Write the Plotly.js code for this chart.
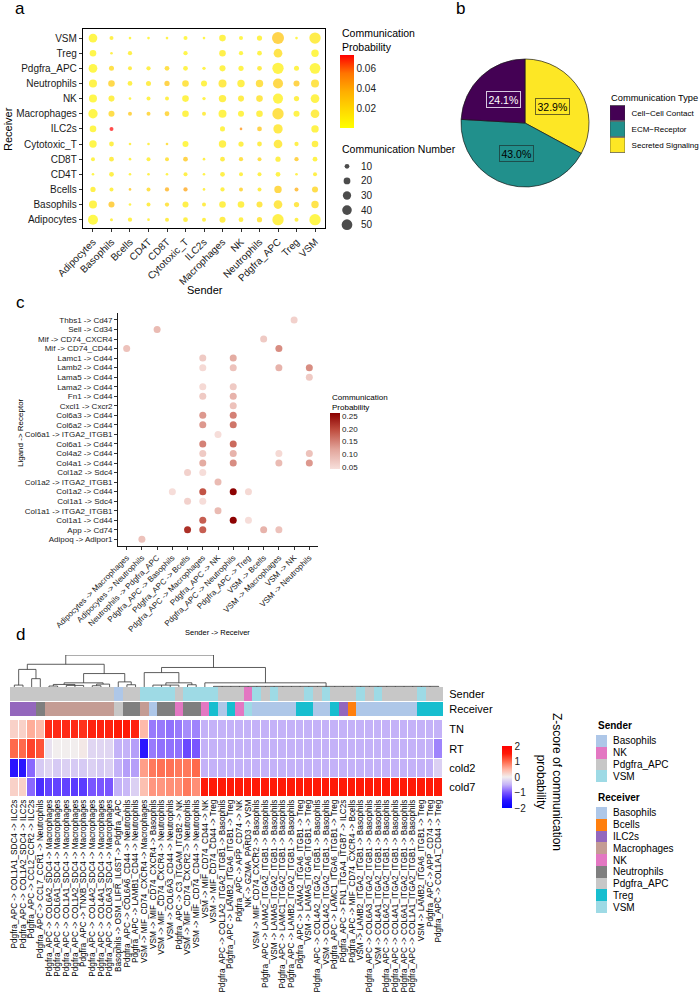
<!DOCTYPE html>
<html><head><meta charset="utf-8">
<script src="https://cdn.plot.ly/plotly-3.0.1.min.js"></script>
<style>html,body{margin:0;padding:0;background:#fff}#chart{width:700px;height:1000px}</style>
</head><body><div id="chart"></div>
<script>
// ================= DATA =================
// ---- Panel a ----
const aSenders = ['Adipocytes','Basophils','Bcells','CD4T','CD8T','Cytotoxic_T','ILC2s','Macrophages','NK','Neutrophils','Pdgfra_APC','Treg','VSM'];
const aReceivers = ['VSM','Treg','Pdgfra_APC','Neutrophils','NK','Macrophages','ILC2s','Cytotoxic_T','CD8T','CD4T','Bcells','Basophils','Adipocytes']; // top to bottom
const aCount = [
  [33, 7, 3, 3, 3, 7, 3, 19, 7, 12, 63, 3, 56],
  [19, 3, 8, 0, 0, 8, 0, 19, 8, 10, 33, 0, 24],
  [33, 11, 7, 8, 10, 10, 5, 16, 12, 10, 56, 11, 50],
  [28, 19, 10, 11, 12, 19, 16, 28, 24, 24, 44, 16, 28],
  [28, 16, 3, 7, 7, 19, 5, 24, 16, 19, 44, 12, 33],
  [38, 16, 7, 7, 10, 19, 7, 28, 16, 19, 56, 16, 33],
  [19, 7, 0, 0, 0, 0, 0, 11, 3, 10, 38, 0, 24],
  [24, 10, 3, 3, 3, 16, 0, 24, 12, 10, 33, 8, 19],
  [7, 10, 3, 7, 7, 10, 3, 10, 8, 7, 12, 8, 10],
  [3, 10, 3, 3, 3, 7, 3, 10, 7, 7, 10, 3, 7],
  [12, 7, 3, 7, 8, 8, 3, 8, 7, 7, 24, 7, 16],
  [28, 16, 3, 7, 8, 16, 7, 19, 19, 16, 33, 12, 24],
  [44, 4, 8, 3, 7, 10, 7, 16, 10, 12, 56, 7, 56]
];
const aProb = [
  [0.006, 0.010, 0.006, 0.006, 0.008, 0.006, 0.006, 0.008, 0.006, 0.008, 0.028, 0.006, 0.012],
  [0.006, 0.010, 0.010, 0, 0, 0.006, 0, 0.010, 0.006, 0.008, 0.018, 0, 0.006],
  [0.005, 0.020, 0.012, 0.010, 0.020, 0.008, 0.008, 0.008, 0.008, 0.012, 0.008, 0.008, 0.006],
  [0.008, 0.025, 0.010, 0.012, 0.028, 0.018, 0.008, 0.014, 0.010, 0.020, 0.025, 0.028, 0.018],
  [0.005, 0.010, 0.006, 0.008, 0.010, 0.008, 0.008, 0.010, 0.012, 0.016, 0.008, 0.010, 0.008],
  [0.006, 0.022, 0.028, 0.025, 0.025, 0.008, 0.012, 0.008, 0.008, 0.010, 0.020, 0.008, 0.012],
  [0.006, 0.073, 0, 0, 0, 0, 0, 0.008, 0.048, 0.028, 0.014, 0, 0.008],
  [0.006, 0.010, 0.010, 0.010, 0.020, 0.006, 0, 0.010, 0.010, 0.012, 0.014, 0.010, 0.010],
  [0.008, 0.012, 0.008, 0.010, 0.018, 0.028, 0.010, 0.012, 0.020, 0.020, 0.010, 0.028, 0.008],
  [0.006, 0.010, 0.008, 0.010, 0.008, 0.010, 0.008, 0.010, 0.010, 0.010, 0.008, 0.010, 0.010],
  [0.010, 0.010, 0.028, 0.020, 0.038, 0.042, 0.010, 0.010, 0.025, 0.012, 0.025, 0.038, 0.022],
  [0.008, 0.030, 0.008, 0.012, 0.018, 0.010, 0.012, 0.010, 0.010, 0.016, 0.016, 0.016, 0.018],
  [0.004, 0.010, 0.010, 0.010, 0.012, 0.010, 0.010, 0.012, 0.010, 0.016, 0.010, 0.010, 0.006]
];
const sizeLegendValues = [10, 20, 30, 40, 50];
const aProbTicks = [0.02, 0.04, 0.06];

// ---- Panel b ----
const commTypes = ['Cell\u2212Cell Contact', 'ECM\u2212Receptor', 'Secreted Signaling'];
const commShare = [24.1, 43.0, 32.9];
const commColors = ['#440154', '#21908C', '#FDE725'];

// ---- Panel c ----
const cLigRec = ['Adipoq -> Adipor1','App -> Cd74','Col1a1 -> Cd44','Col1a1 -> ITGA2_ITGB1','Col1a1 -> Sdc4',
  'Col1a2 -> Cd44','Col1a2 -> ITGA2_ITGB1','Col1a2 -> Sdc4','Col4a1 -> Cd44','Col4a2 -> Cd44','Col6a1 -> Cd44',
  'Col6a1 -> ITGA2_ITGB1','Col6a2 -> Cd44','Col6a3 -> Cd44','Cxcl1 -> Cxcr2','Fn1 -> Cd44','Lama2 -> Cd44',
  'Lama5 -> Cd44','Lamb2 -> Cd44','Lamc1 -> Cd44','Mif -> CD74_CD44','Mif -> CD74_CXCR4','Sell -> Cd34','Thbs1 -> Cd47'];
const cSendRec = ['Adipocytes -> Macrophages','Adipocytes -> Neutrophils','Neutrophils -> Pdgfra_APC',
  'Pdgfra_APC -> Basophils','Pdgfra_APC -> Bcells','Pdgfra_APC -> Macrophages','Pdgfra_APC -> NK',
  'Pdgfra_APC -> Neutrophils','Pdgfra_APC -> Treg','VSM -> Bcells','VSM -> Macrophages','VSM -> NK','VSM -> Neutrophils'];
const cPointPair = [
  'Thbs1 -> Cd47','Sell -> Cd34','Mif -> CD74_CXCR4','Mif -> CD74_CD44','Mif -> CD74_CD44',
  'Lamc1 -> Cd44','Lamc1 -> Cd44','Lamb2 -> Cd44','Lamb2 -> Cd44','Lamb2 -> Cd44','Lamb2 -> Cd44',
  'Lama5 -> Cd44','Lama2 -> Cd44','Lama2 -> Cd44','Fn1 -> Cd44','Fn1 -> Cd44','Cxcl1 -> Cxcr2',
  'Col6a3 -> Cd44','Col6a3 -> Cd44','Col6a2 -> Cd44','Col6a2 -> Cd44','Col6a1 -> ITGA2_ITGB1',
  'Col6a1 -> Cd44','Col6a1 -> Cd44','Col4a2 -> Cd44','Col4a2 -> Cd44','Col4a2 -> Cd44','Col4a2 -> Cd44',
  'Col4a1 -> Cd44','Col4a1 -> Cd44','Col4a1 -> Cd44','Col4a1 -> Cd44','Col1a2 -> Sdc4','Col1a2 -> Sdc4',
  'Col1a2 -> ITGA2_ITGB1','Col1a2 -> Cd44','Col1a2 -> Cd44','Col1a2 -> Cd44','Col1a2 -> Cd44',
  'Col1a1 -> Sdc4','Col1a1 -> Sdc4','Col1a1 -> ITGA2_ITGB1','Col1a1 -> Cd44','Col1a1 -> Cd44','Col1a1 -> Cd44',
  'App -> Cd74','App -> Cd74','App -> Cd74','App -> Cd74','Adipoq -> Adipor1'];
const cPointSR = [
  'VSM -> NK','Neutrophils -> Pdgfra_APC','VSM -> Bcells','Adipocytes -> Macrophages','VSM -> Macrophages',
  'Pdgfra_APC -> Macrophages','Pdgfra_APC -> Neutrophils','Pdgfra_APC -> Macrophages','Pdgfra_APC -> Neutrophils','VSM -> Macrophages','VSM -> Neutrophils',
  'VSM -> Neutrophils','Pdgfra_APC -> Macrophages','Pdgfra_APC -> Neutrophils','Pdgfra_APC -> Macrophages','Pdgfra_APC -> Neutrophils','Pdgfra_APC -> Neutrophils',
  'Pdgfra_APC -> Macrophages','Pdgfra_APC -> Neutrophils','Pdgfra_APC -> Macrophages','Pdgfra_APC -> Neutrophils','Pdgfra_APC -> NK',
  'Pdgfra_APC -> Macrophages','Pdgfra_APC -> Neutrophils','Pdgfra_APC -> Macrophages','Pdgfra_APC -> Neutrophils','VSM -> Macrophages','VSM -> Neutrophils',
  'Pdgfra_APC -> Macrophages','Pdgfra_APC -> Neutrophils','VSM -> Macrophages','VSM -> Neutrophils','Pdgfra_APC -> Bcells','Pdgfra_APC -> Macrophages',
  'Pdgfra_APC -> NK','Pdgfra_APC -> Basophils','Pdgfra_APC -> Macrophages','Pdgfra_APC -> Neutrophils','Pdgfra_APC -> Treg',
  'Pdgfra_APC -> Bcells','Pdgfra_APC -> Macrophages','Pdgfra_APC -> NK','Pdgfra_APC -> Macrophages','Pdgfra_APC -> Neutrophils','Pdgfra_APC -> Treg',
  'Pdgfra_APC -> Bcells','Pdgfra_APC -> Macrophages','VSM -> Bcells','VSM -> Macrophages','Adipocytes -> Neutrophils'];
const cPointProb = [
  0.06, 0.09, 0.07, 0.08, 0.14,
  0.07, 0.11, 0.05, 0.08, 0.10, 0.14,
  0.07, 0.05, 0.07, 0.07, 0.10, 0.08,
  0.13, 0.15, 0.13, 0.16, 0.045,
  0.15, 0.17, 0.07, 0.10, 0.05, 0.08,
  0.11, 0.14, 0.09, 0.13, 0.06, 0.045,
  0.09, 0.045, 0.19, 0.26, 0.05,
  0.06, 0.045, 0.09, 0.18, 0.26, 0.045,
  0.22, 0.18, 0.10, 0.08, 0.08];
const cProbTicks = [0.05, 0.10, 0.15, 0.20, 0.25];

// ---- Panel d ----
const hmColumns = [
  'Pdgfra_APC -> COL1A1_SDC4 -> ILC2s','Pdgfra_APC -> COL1A2_SDC4 -> ILC2s','Pdgfra_APC -> CCL2_CCR2 -> ILC2s',
  'Pdgfra_APC -> CCL7_CCR1 -> Neutrophils','Pdgfra_APC -> COL6A2_SDC4 -> Macrophages','Pdgfra_APC -> COL6A1_SDC4 -> Macrophages',
  'Pdgfra_APC -> COL1A1_SDC4 -> Macrophages','Pdgfra_APC -> COL1A2_SDC4 -> Macrophages','Pdgfra_APC -> TNXB_SDC4 -> Macrophages',
  'Pdgfra_APC -> COL4A2_SDC4 -> Macrophages','Pdgfra_APC -> COL4A1_SDC4 -> Macrophages','Pdgfra_APC -> COL6A3_SDC4 -> Macrophages',
  'Basophils -> OSM_LIFR_IL6ST -> Pdgfra_APC','Pdgfra_APC -> COL6A6_CD44 -> Neutrophils','Pdgfra_APC -> LAMB1_CD44 -> Neutrophils',
  'VSM -> MIF_CD74_CXCR4 -> Macrophages','VSM -> MIF_CD74_CXCR4 -> Basophils','VSM -> MIF_CD74_CXCR4 -> Neutrophils',
  'VSM -> COL6A3_CD44 -> Neutrophils','Pdgfra_APC -> C3_ITGAM_ITGB2 -> NK','VSM -> MIF_CD74_CXCR2 -> Neutrophils',
  'VSM -> MIF_CD74_CD44 -> Neutrophils','VSM -> MIF_CD74_CD44 -> NK','VSM -> MIF_CD74_CD44 -> Treg',
  'Pdgfra_APC -> COL1A2_ITGA2_ITGB1 -> Basophils','Pdgfra_APC -> LAMB2_ITGA6_ITGB1 -> Treg','Pdgfra_APC -> APP_CD74 -> NK',
  'NK -> GZMA_PARD3 -> VSM','VSM -> MIF_CD74_CXCR2 -> Basophils','Pdgfra_APC -> LAMA2_ITGA2_ITGB1 -> Basophils',
  'VSM -> LAMA5_ITGA2_ITGB1 -> Basophils','Pdgfra_APC -> LAMC1_ITGA2_ITGB1 -> Basophils','Pdgfra_APC -> LAMB2_ITGA2_ITGB1 -> Basophils',
  'Pdgfra_APC -> LAMA2_ITGA6_ITGB1 -> Treg','VSM -> LAMA5_ITGA6_ITGB1 -> Treg','Pdgfra_APC -> COL4A2_ITGA2_ITGB1 -> Basophils',
  'VSM -> COL4A2_ITGA2_ITGB1 -> Basophils','Pdgfra_APC -> LAMC1_ITGA6_ITGB1 -> Treg','Pdgfra_APC -> FN1_ITGA4_ITGB7 -> ILC2s',
  'Pdgfra_APC -> MIF_CD74_CXCR4 -> Bcells','VSM -> LAMB2_ITGA2_ITGB1 -> Basophils','Pdgfra_APC -> COL6A3_ITGA2_ITGB1 -> Basophils',
  'VSM -> COL4A1_ITGA2_ITGB1 -> Basophils','Pdgfra_APC -> COL6A2_ITGA2_ITGB1 -> Basophils','Pdgfra_APC -> COL4A1_ITGA2_ITGB1 -> Basophils',
  'Pdgfra_APC -> COL6A1_ITGA2_ITGB1 -> Basophils','Pdgfra_APC -> COL1A1_ITGA2_ITGB1 -> Basophils','VSM -> LAMB2_ITGA6_ITGB1 -> Treg',
  'Pdgfra_APC -> APP_CD74 -> Treg','Pdgfra_APC -> COL1A1_CD44 -> Treg'];
const hmRows = ['TN', 'RT', 'cold2', 'cold7'];
const zTN    = [0.25,0.25,0.55,0.45,1.4,1.4,1.4,1.4,1.35,1.45,1.45,1.45,1.5,1.5,1.45,0.45,-0.8,-0.8,-0.85,-0.8,-0.7,-0.75,
  -0.5,-0.5,-0.5,-0.5,-0.5,-0.5,-0.5,-0.5,-0.5,-0.5,-0.5,-0.5,-0.5,-0.5,-0.5,-0.5,-0.5,-0.5,-0.5,-0.5,-0.5,-0.5,-0.5,-0.5,-0.5,-0.5,-0.5,-0.5];
const zRT    = [1.0,1.0,1.25,1.15,-0.1,0.0,0.0,0.0,0.05,-0.2,-0.2,-0.2,-0.5,-0.5,-0.6,-1.5,-0.8,-0.85,-0.85,-0.85,-1.1,-1.0,
  -0.5,-0.5,-0.5,-0.5,-0.5,-0.5,-0.5,-0.5,-0.5,-0.5,-0.5,-0.5,-0.5,-0.5,-0.5,-0.5,-0.5,-0.5,-0.5,-0.5,-0.5,-0.5,-0.5,-0.5,-0.5,-0.5,-0.5,-0.75];
const zCold2 = [-1.5,-1.5,-0.9,-0.3,-0.2,-0.3,-0.25,-0.3,-0.3,-0.25,-0.3,-0.25,-0.5,-0.6,-0.6,0.65,0.9,0.95,0.95,0.9,0.9,1.0,
  -0.5,-0.5,-0.5,-0.5,-0.5,-0.5,-0.5,-0.5,-0.5,-0.5,-0.5,-0.5,-0.5,-0.5,-0.5,-0.5,-0.5,-0.5,-0.5,-0.5,-0.5,-0.5,-0.5,-0.5,-0.5,-0.5,-0.5,-0.25];
const zCold7 = [0.25,0.25,-0.9,-1.3,-1.15,-1.15,-1.15,-1.2,-1.2,-1.0,-1.0,-1.0,-0.5,-0.45,-0.25,0.4,0.7,0.7,0.75,0.75,0.9,0.75,
  1.5,1.5,1.5,1.5,1.5,1.5,1.5,1.5,1.5,1.5,1.5,1.5,1.5,1.5,1.5,1.5,1.5,1.5,1.5,1.5,1.5,1.5,1.5,1.5,1.5,1.5,1.5,1.5];
const zTicks = [-2, -1, 0, 1, 2];
const senderCats = ['Basophils', 'NK', 'Pdgfra_APC', 'VSM'];
const senderColors = ['#AEC7E8', '#E377C2', '#C7C7C7', '#9EDAE5'];
const receiverCats = ['Basophils', 'Bcells', 'ILC2s', 'Macrophages', 'NK', 'Neutrophils', 'Pdgfra_APC', 'Treg', 'VSM'];
const receiverColors = ['#AEC7E8', '#FF7F0E', '#9467BD', '#C49C94', '#E377C2', '#7F7F7F', '#C7C7C7', '#17BECF', '#9EDAE5'];
// column clustering: internal nodes {h: merge height (relative), c: children}, leaves = column numbers
const dendroTree = {h: 1.0, c: [
  {h: 0.71, c: [
    {h: 0.55, c: [ {h: 0.06, c: [1, 2]}, {h: 0.26, c: [3, 4]} ]},
    {h: 0.42, c: [
      {h: 0.13, c: [
        {h: 0.08, c: [ {h: 0.03, c: [5, 6]}, {h: 0.05, c: [7, 8, 9]} ]},
        {h: 0.09, c: [ {h: 0.04, c: [10, 11]}, 12 ]}
      ]},
      {h: 0.16, c: [13, {h: 0.07, c: [14, 15]}]}
    ]}
  ]},
  {h: 0.61, c: [
    {h: 0.45, c: [16, {h: 0.13, c: [ {h: 0.06, c: [17, 18, 19, 20]}, {h: 0.07, c: [21, 22]} ]}]},
    {h: 0.13, c: [23, {h: 0.02, c: [24,25,26,27,28,29,30,31,32,33,34,35,36,37,38,39,40,41,42,43,44,45,46,47,48,49,50]}]}
  ]}
]};

// ================= HELPERS =================
const W = 700, H = 1000;
const px = v => v / W;
const py = v => 1 - v / H;
const FONT = 'Liberation Sans, Arial, Helvetica, sans-serif';
function discreteScale(colors) {
  const n = colors.length, s = [];
  colors.forEach((c, i) => { s.push([i / n, c]); s.push([(i + 1) / n, c]); });
  return s;
}
const hidden = {visible: false, showgrid: false, zeroline: false, fixedrange: true};
const clearTicks = {ticks: 'outside', tickcolor: 'rgba(0,0,0,0)', showline: false, showgrid: false, zeroline: false, dtick: 1};

const traces = [];
const annotations = [];
function label(text, x, y, opts) {
  annotations.push(Object.assign({text: text, x: px(x), y: py(y), xref: 'paper', yref: 'paper',
    showarrow: false, xanchor: 'center', yanchor: 'middle', font: {size: 10, color: '#000', family: FONT}}, opts || {}));
}

// ================= PANEL A =================
const aSizeRef = 2 * 50 / (10.7 * 10.7);
const ax = [], ay = [], asz = [], acol = [];
aReceivers.forEach((r, i) => aSenders.forEach((s, j) => {
  if (aCount[i][j] > 0) { ax.push(s); ay.push(r); asz.push(aCount[i][j]); acol.push(aProb[i][j]); }
}));
traces.push({
  type: 'scatter', mode: 'markers', x: ax, y: ay, xaxis: 'x', yaxis: 'y', hoverinfo: 'skip', showlegend: false,
  marker: {size: asz, sizemode: 'area', sizeref: aSizeRef, color: acol, cmin: 0, cmax: 0.0733,
    colorscale: [[0, '#FFFF00'], [0.25, '#FFD800'], [0.5, '#FFAE00'], [0.75, '#FF7400'], [1, '#FF0000']],
    line: {width: 0},
    colorbar: {x: px(340), xanchor: 'left', y: py(55), yanchor: 'top', len: 73, lenmode: 'pixels',
      thickness: 14, xpad: 0, ypad: 0, outlinewidth: 0, tickvals: aProbTicks, ticks: '',
      tickfont: {size: 10, color: '#222'}, title: {text: ''}}}
});
// size legend
traces.push({
  type: 'scatter', mode: 'markers', x: sizeLegendValues.map(() => 0), y: sizeLegendValues.map(String),
  xaxis: 'x2', yaxis: 'y2', hoverinfo: 'skip', showlegend: false,
  marker: {size: sizeLegendValues, sizemode: 'area', sizeref: aSizeRef, color: '#000', line: {width: 0}}
});

// ================= PANEL B =================
// drawn clockwise from 12 o'clock in reverse order = counter-clockwise in the listed order
traces.push({
  type: 'pie', values: commShare.slice().reverse(), labels: commTypes.slice().reverse(), sort: false,
  direction: 'clockwise', rotation: 0,
  textinfo: 'none', hoverinfo: 'skip', showlegend: false,
  marker: {colors: commColors.slice().reverse(), line: {color: '#1a1a1a', width: 0.7}},
  domain: {x: [px(461), px(589)], y: [py(187), py(59)]}
});
// slice labels placed at half radius from the slice mid angles (counter-clockwise from 12 o'clock)
(function () {
  const cx = 525, cy = 123, r = 64;
  const total = commShare.reduce((a, b) => a + b, 0);
  let cum = 0;
  const txtCol = ['#ffffff', '#000000', '#000000'];
  const brd = ['#d8c8e0', '#1d4e4c', '#6b6420'];
  commShare.forEach((v, i) => {
    const f = (cum + v / 2) / total; cum += v;
    const th = 2 * Math.PI * f;
    const lx = cx - 0.5 * r * Math.sin(th), ly = cy - 0.5 * r * Math.cos(th);
    label(v.toFixed(1) + '%', lx, ly, {font: {size: 10.5, color: txtCol[i], family: FONT},
      bgcolor: commColors[i], bordercolor: brd[i], borderwidth: 1, borderpad: 1.5});
  });
})();
// pie legend keys
traces.push({
  type: 'scatter', mode: 'markers', x: commTypes.map(() => 0), y: commTypes, xaxis: 'x10', yaxis: 'y10',
  hoverinfo: 'skip', showlegend: false,
  marker: {symbol: 'square', size: 15, color: commColors, line: {color: '#333', width: 0.6}}
});

// ================= PANEL C =================
traces.push({
  type: 'scatter', mode: 'markers', x: cPointSR, y: cPointPair, xaxis: 'x3', yaxis: 'y3',
  hoverinfo: 'skip', showlegend: false,
  marker: {size: 7, color: cPointProb, cmin: 0.042, cmax: 0.262, line: {width: 0},
    colorscale: [[0, '#F7DFDB'], [0.35, '#E2A59B'], [0.7, '#BF4C3E'], [1, '#8B0000']],
    colorbar: {x: px(330), xanchor: 'left', y: py(413), yanchor: 'top', len: 56, lenmode: 'pixels',
      thickness: 10, xpad: 0, ypad: 0, outlinewidth: 0, tickvals: cProbTicks, ticks: '',
      tickformat: '.2f', tickfont: {size: 8, color: '#222'}, title: {text: ''}}}
});

// ================= PANEL D =================
const colIdx = hmColumns.map((_, i) => i + 1);
// dendrogram segments from the tree
const dx = [], dy = [];
function walk(node) {
  if (typeof node === 'number') return {x: node, h: 0};
  const kids = node.c.map(walk);
  const x0 = kids[0].x, x1 = kids[kids.length - 1].x;
  dx.push(x0, x1, null); dy.push(node.h, node.h, null);
  kids.forEach(k => { dx.push(k.x, k.x, null); dy.push(k.h, node.h, null); });
  return {x: (x0 + x1) / 2, h: node.h};
}
walk(dendroTree);
traces.push({type: 'scatter', mode: 'lines', x: dx, y: dy, xaxis: 'x4', yaxis: 'y4', hoverinfo: 'skip',
  showlegend: false, line: {color: '#333', width: 0.8}, connectgaps: false});

// annotation bars
const colSender = hmColumns.map(s => s.split(' -> ')[0]);
const colReceiver = hmColumns.map(s => { const p = s.split(' -> '); return p[p.length - 1]; });
traces.push({type: 'heatmap', x: colIdx, y: [0], z: [colSender.map(s => senderCats.indexOf(s))],
  xaxis: 'x5', yaxis: 'y5', zmin: -0.5, zmax: senderCats.length - 0.5, colorscale: discreteScale(senderColors),
  showscale: false, hoverinfo: 'skip'});
traces.push({type: 'heatmap', x: colIdx, y: [0], z: [colReceiver.map(s => receiverCats.indexOf(s))],
  xaxis: 'x6', yaxis: 'y6', zmin: -0.5, zmax: receiverCats.length - 0.5, colorscale: discreteScale(receiverColors),
  showscale: false, hoverinfo: 'skip'});
// main heatmap
traces.push({type: 'heatmap', x: colIdx, y: hmRows, z: [zTN, zRT, zCold2, zCold7], xaxis: 'x7', yaxis: 'y7',
  zmin: -2, zmax: 2, xgap: 1, ygap: 1, hoverinfo: 'skip',
  colorscale: [[0, '#0000FF'], [0.125, '#2A14FF'], [0.25, '#7A55FF'], [0.375, '#C4B2F8'], [0.5, '#F2EEEE'],
    [0.625, '#FFB4A2'], [0.75, '#FF6A4C'], [0.875, '#FF1A08'], [1, '#FF0000']],
  colorbar: {x: px(502), xanchor: 'left', y: py(746), yanchor: 'top', len: 62, lenmode: 'pixels',
    thickness: 10, xpad: 0, ypad: 0, outlinewidth: 0, tickvals: zTicks, ticks: '',
    tickfont: {size: 10, color: '#222'}, title: {text: ''}}});
// legend keys
traces.push({type: 'heatmap', x: [0], y: senderCats, z: senderCats.map((_, i) => [i]), xaxis: 'x8', yaxis: 'y8',
  zmin: -0.5, zmax: senderCats.length - 0.5, colorscale: discreteScale(senderColors), showscale: false, hoverinfo: 'skip'});
traces.push({type: 'heatmap', x: [0], y: receiverCats, z: receiverCats.map((_, i) => [i]), xaxis: 'x9', yaxis: 'y9',
  zmin: -0.5, zmax: receiverCats.length - 0.5, colorscale: discreteScale(receiverColors), showscale: false, hoverinfo: 'skip'});

// ================= TEXT =================
label('a', 20, 8, {font: {size: 17, color: '#000', family: FONT}});
label('b', 460, 8, {font: {size: 17, color: '#000', family: FONT}});
label('c', 20, 302, {font: {size: 17, color: '#000', family: FONT}});
label('d', 20, 634, {font: {size: 17, color: '#000', family: FONT}});
label('Receiver', 8, 129, {textangle: -90, font: {size: 11, color: '#000', family: FONT}});
label('Sender', 205, 290, {font: {size: 11, color: '#000', family: FONT}});
label('Communication<br>Probability', 340, 25, {xanchor: 'left', yanchor: 'top', align: 'left', font: {size: 10.5, color: '#000', family: FONT}});
label('Communication Number', 340, 149, {xanchor: 'left', font: {size: 10.5, color: '#000', family: FONT}});
label('Communication Type', 609, 98, {xanchor: 'left', font: {size: 9.3, color: '#000', family: FONT}});
label('Ligand -> Receptor', 20, 433, {textangle: -90, font: {size: 8, color: '#000', family: FONT}});
label('Sender -> Receiver', 217, 632, {font: {size: 7.5, color: '#000', family: FONT}});
label('Communication<br>Probability', 330, 391, {xanchor: 'left', yanchor: 'top', align: 'left', font: {size: 8, color: '#000', family: FONT}});
label('Z-score of communication<br>probability', 549, 782, {textangle: 90, font: {size: 12, color: '#000', family: FONT}});
label('<b>Sender</b>', 596, 725, {xanchor: 'left', font: {size: 10, color: '#000', family: FONT}});
label('<b>Receiver</b>', 596, 797, {xanchor: 'left', font: {size: 10, color: '#000', family: FONT}});

// ================= LAYOUT =================
const xd = [px(10), px(443)];
const layout = {
  width: W, height: H, margin: {l: 0, r: 0, t: 0, b: 0}, showlegend: false,
  paper_bgcolor: '#fff', plot_bgcolor: '#fff', font: {family: FONT, color: '#000', size: 10},
  annotations: annotations,
  // panel a
  xaxis: {domain: [px(83), px(325)], anchor: 'y', type: 'category', categoryorder: 'array', categoryarray: aSenders,
    range: [-0.54, 12.54], dtick: 1, showline: true, mirror: true, linecolor: '#000', linewidth: 1.2,
    ticks: 'outside', ticklen: 3, tickcolor: '#333', tickangle: -45, tickfont: {size: 10, color: '#1a1a1a'},
    showgrid: false, zeroline: false, fixedrange: true},
  yaxis: {domain: [py(228), py(29)], anchor: 'x', type: 'category', categoryorder: 'array',
    categoryarray: aReceivers.slice().reverse(), range: [-0.55, 12.6], dtick: 1, showline: true, mirror: true,
    linecolor: '#000', linewidth: 1.2, ticks: 'outside', ticklen: 3, tickcolor: '#333',
    tickfont: {size: 10, color: '#1a1a1a'}, showgrid: false, zeroline: false, fixedrange: true},
  xaxis2: Object.assign({domain: [px(340), px(354)], anchor: 'y2', range: [-1, 1]}, hidden),
  yaxis2: Object.assign({domain: [py(232), py(159)], anchor: 'x2', type: 'category', side: 'right',
    categoryorder: 'array', categoryarray: sizeLegendValues.map(String), range: [4.5, -0.5], ticklen: 4,
    tickfont: {size: 10, color: '#222'}, fixedrange: true}, clearTicks),
  // panel c
  xaxis3: {domain: [px(118), px(318)], anchor: 'y3', type: 'category', categoryorder: 'array', categoryarray: cSendRec,
    range: [-0.57, 12.57], dtick: 1, showline: true, linecolor: '#000', linewidth: 0.9, ticks: 'outside', ticklen: 3,
    tickcolor: '#333', tickangle: -45, tickfont: {size: 8, color: '#1a1a1a'}, showgrid: false, zeroline: false, fixedrange: true},
  yaxis3: {domain: [py(546), py(313)], anchor: 'x3', type: 'category', categoryorder: 'array', categoryarray: cLigRec,
    range: [-0.7, 23.73], dtick: 1, showline: true, linecolor: '#000', linewidth: 0.9, ticks: 'outside', ticklen: 3,
    tickcolor: '#333', tickfont: {size: 8, color: '#1a1a1a'}, showgrid: false, zeroline: false, fixedrange: true},
  // panel d
  xaxis4: Object.assign({domain: xd, anchor: 'y4', range: [0.5, 50.5]}, hidden),
  yaxis4: Object.assign({domain: [py(687), py(655)], anchor: 'x4', range: [0, 1]}, hidden),
  xaxis5: Object.assign({domain: xd, anchor: 'y5', range: [0.5, 50.5]}, hidden),
  yaxis5: Object.assign({domain: [py(701), py(687)], anchor: 'x5', side: 'right', range: [-0.5, 0.5],
    tickvals: [0], ticktext: ['Sender'], ticklen: 3, tickfont: {size: 11, color: '#000'}, fixedrange: true}, clearTicks, {tickmode: 'array'}),
  xaxis6: Object.assign({domain: xd, anchor: 'y6', range: [0.5, 50.5]}, hidden),
  yaxis6: Object.assign({domain: [py(716), py(702)], anchor: 'x6', side: 'right', range: [-0.5, 0.5],
    tickvals: [0], ticktext: ['Receiver'], ticklen: 3, tickfont: {size: 11, color: '#000'}, fixedrange: true}, clearTicks, {tickmode: 'array'}),
  xaxis7: {domain: xd, anchor: 'y7', range: [0.5, 50.5], tickmode: 'array', tickvals: colIdx, ticktext: hmColumns,
    tickangle: -90, ticks: '', tickfont: {size: 8.2, color: '#000'}, showline: false, showgrid: false, zeroline: false, fixedrange: true},
  yaxis7: Object.assign({domain: [py(797), py(720)], anchor: 'x7', type: 'category', categoryorder: 'array',
    categoryarray: hmRows, range: [3.5, -0.5], side: 'right', ticklen: 3, tickfont: {size: 11, color: '#000'}, fixedrange: true}, clearTicks),
  xaxis8: Object.assign({domain: [px(596), px(607)], anchor: 'y8', range: [-0.5, 0.5]}, hidden),
  yaxis8: Object.assign({domain: [py(782), py(735)], anchor: 'x8', type: 'category', categoryorder: 'array',
    categoryarray: senderCats, range: [3.5, -0.5], side: 'right', ticklen: 3, tickfont: {size: 10, color: '#000'}, fixedrange: true}, clearTicks),
  xaxis9: Object.assign({domain: [px(596), px(607)], anchor: 'y9', range: [-0.5, 0.5]}, hidden),
  yaxis9: Object.assign({domain: [py(913), py(807)], anchor: 'x9', type: 'category', categoryorder: 'array',
    categoryarray: receiverCats, range: [8.5, -0.5], side: 'right', ticklen: 3, tickfont: {size: 10, color: '#000'}, fixedrange: true}, clearTicks),
  // pie legend
  xaxis10: Object.assign({domain: [px(610), px(625)], anchor: 'y10', range: [-1, 1]}, hidden),
  yaxis10: Object.assign({domain: [py(153), py(105)], anchor: 'x10', type: 'category', categoryorder: 'array',
    categoryarray: commTypes, range: [2.5, -0.5], side: 'right', ticklen: 4, tickfont: {size: 8, color: '#000'}, fixedrange: true}, clearTicks)
};

Plotly.newPlot('chart', traces, layout, {displayModeBar: false, staticPlot: true});
</script>
</body></html>
